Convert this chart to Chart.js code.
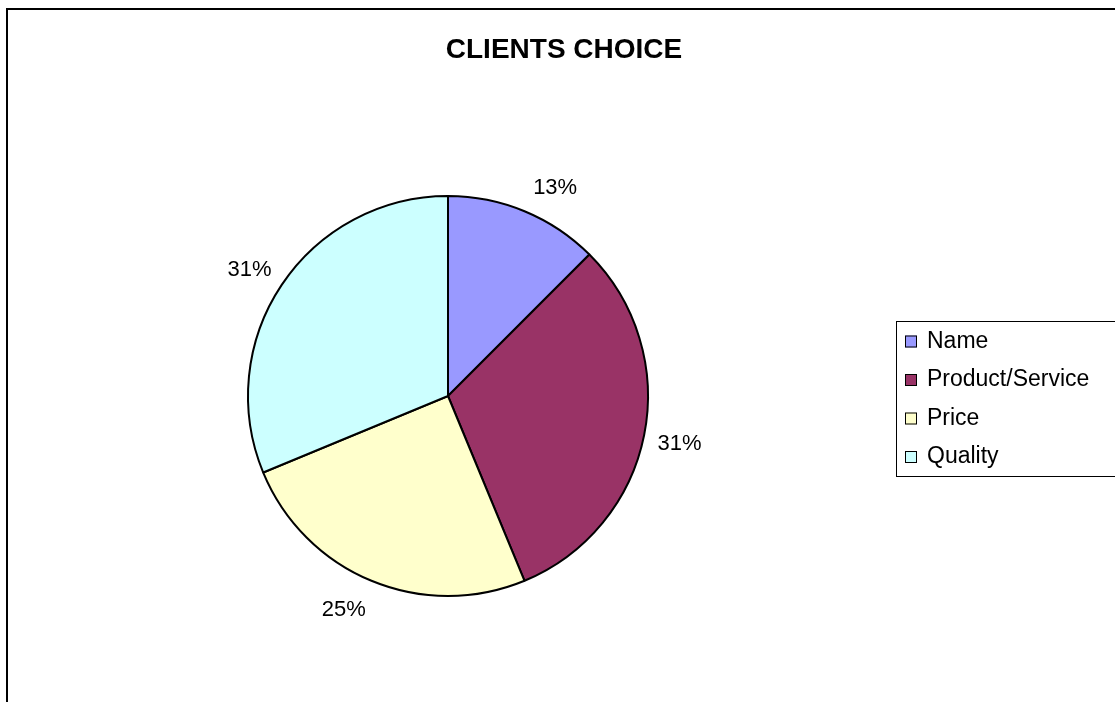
<!DOCTYPE html>
<html>
<head>
<meta charset="utf-8">
<title>Clients Choice</title>
<script src="https://cdn.jsdelivr.net/npm/chart.js@4/dist/chart.umd.min.js"></script>
<style>
    html, body { margin: 0; padding: 0; background: #fff; }
    canvas { display: block; }
</style>
</head>
<body>
<canvas id="pie-chart" width="1115" height="702"></canvas>
<script>
// Clients choice pie chart

const categories = ['Name', 'Product/Service', 'Price', 'Quality'];
const votes      = [2, 5, 4, 5];
const colors     = ['#9999FF', '#993366', '#FFFFCC', '#CCFFFF'];
const chartTitle = 'CLIENTS CHOICE';

// labels in the original are nudged a bit around the slice (degrees, clockwise)
const labelNudge = [4.5, 0, 3.7, -1];

const FONT = '"Liberation Sans", Arial, sans-serif';

// frame, title, percentage labels and boxed legend, Excel style
const excelDecor = {
    id: 'excelDecor',
    afterDraw(chart) {
        const ctx = chart.ctx;
        const meta = chart.getDatasetMeta(0);
        const data = chart.data.datasets[0].data;
        const total = data.reduce((a, b) => a + b, 0);

        ctx.save();

        // outer frame (runs off the right and bottom edge)
        ctx.strokeStyle = '#000';
        ctx.lineWidth = 2;
        ctx.strokeRect(7, 9, 1200, 800);

        // title
        ctx.fillStyle = '#000';
        ctx.font = 'bold 28px ' + FONT;
        ctx.textAlign = 'center';
        ctx.textBaseline = 'alphabetic';
        ctx.fillText(chartTitle, 564, 58);

        // percentage labels outside the pie
        ctx.font = '22px ' + FONT;
        ctx.textBaseline = 'middle';
        meta.data.forEach((arc, i) => {
            const mid = (arc.startAngle + arc.endAngle) / 2 + labelNudge[i] * Math.PI / 180;
            const r = arc.outerRadius + 36;
            const x = arc.x + Math.cos(mid) * r;
            const y = arc.y + Math.sin(mid) * r + 2;
            const pct = Math.round(data[i] / total * 100) + '%';
            ctx.fillText(pct, x, y);
        });

        // legend box
        ctx.lineWidth = 1;
        ctx.strokeStyle = '#000';
        ctx.strokeRect(896.5, 321.5, 300, 155);
        ctx.font = '23px ' + FONT;
        ctx.textAlign = 'left';
        chart.data.labels.forEach((label, i) => {
            const cy = 341.5 + i * 38.5;
            ctx.fillStyle = colors[i];
            ctx.fillRect(905, cy - 6, 12, 12);
            ctx.strokeRect(905.5, cy - 5.5, 11, 11);
            ctx.fillStyle = '#000';
            ctx.fillText(label, 927, cy);
        });

        ctx.restore();
    }
};

new Chart(document.getElementById('pie-chart'), {
    type: 'pie',
    data: {
        labels: categories,
        datasets: [{
            data: votes,
            backgroundColor: colors,
            borderColor: '#000',
            borderWidth: 2
        }]
    },
    options: {
        responsive: false,
        animation: false,
        radius: 200,
        layout: { padding: { left: 0, right: 219, top: 90, bottom: 0 } },
        plugins: {
            legend: { display: false },
            title: { display: false },
            tooltip: { enabled: false }
        }
    },
    plugins: [excelDecor]
});
</script>
</body>
</html>
